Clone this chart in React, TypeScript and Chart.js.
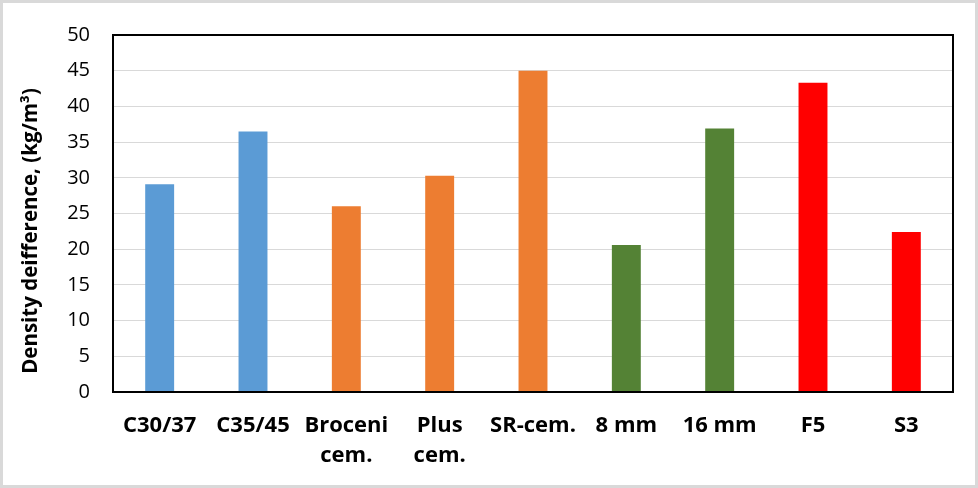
import { useEffect, useRef } from "react";
import { Chart, registerables } from "chart.js";

Chart.register(...registerables);

const categories: string[][] = [
  ["C30/37"],
  ["C35/45"],
  ["Broceni", "cem."],
  ["Plus", "cem."],
  ["SR-cem."],
  ["8 mm"],
  ["16 mm"],
  ["F5"],
  ["S3"],
];
const values = [29.1, 36.5, 26.0, 30.3, 45.0, 20.6, 36.9, 43.3, 22.4];
const barColors = [
  "#5B9BD5",
  "#5B9BD5",
  "#ED7D31",
  "#ED7D31",
  "#ED7D31",
  "#548235",
  "#548235",
  "#FF0000",
  "#FF0000",
];
const yMin = 0;
const yMax = 50;
const yStep = 5;
const yTitle = "Density deifference, (kg/m\u00B3)";

const FONT = "'Open Sans', 'Liberation Sans', sans-serif";

const framePlugin = {
  id: "frame",
  beforeDraw(chart: any) {
    const ctx = chart.ctx;
    ctx.save();
    ctx.fillStyle = "#FFFFFF";
    ctx.fillRect(0, 0, chart.width, chart.height);
    ctx.restore();
  },
  afterDraw(chart: any) {
    const ctx = chart.ctx;
    const a = chart.chartArea;
    ctx.save();
    // plot box
    ctx.strokeStyle = "#000000";
    ctx.lineWidth = 2;
    ctx.strokeRect(a.left, a.top, a.right - a.left, a.bottom - a.top);
    // outer border
    ctx.strokeStyle = "#D9D9D9";
    ctx.lineWidth = 3;
    ctx.strokeRect(1.5, 1.5, chart.width - 3, chart.height - 3);
    // y title
    ctx.fillStyle = "#000000";
    ctx.font = `bold 20.5px ${FONT}`;
    ctx.textAlign = "center";
    ctx.textBaseline = "middle";
    ctx.translate(31, 231);
    ctx.rotate(-Math.PI / 2);
    ctx.fillText(yTitle, 0, 0);
    ctx.restore();
  },
};

export default function App() {
  const ref = useRef<HTMLCanvasElement | null>(null);
  useEffect(() => {
    if (!ref.current) return;
    const chart = new Chart(ref.current, {
      type: "bar",
      data: {
        labels: categories,
        datasets: [
          {
            data: values,
            backgroundColor: barColors,
            borderWidth: 0,
            barPercentage: 0.31,
            categoryPercentage: 1,
          },
        ],
      },
      options: {
        responsive: false,
        animation: false,
        layout: { padding: { left: 0, top: 32, right: 25, bottom: 0 } },
        plugins: {
          legend: { display: false },
          tooltip: { enabled: false },
          title: { display: false },
        },
        scales: {
          x: {
            grid: { display: false, drawTicks: false },
            border: { display: false },
            ticks: {
              color: "#000000",
              font: { family: FONT, size: 22, weight: "bold", lineHeight: 1.4 },
              padding: 18,
              maxRotation: 0,
              autoSkip: false,
            },
            afterFit(scale: any) {
              scale.height = 96;
            },
          },
          y: {
            min: yMin,
            max: yMax,
            grid: { color: "#D9D9D9", lineWidth: 1, drawTicks: false },
            border: { display: false },
            ticks: {
              stepSize: yStep,
              color: "#000000",
              font: { family: FONT, size: 20 },
              padding: 23,
            },
            afterFit(scale: any) {
              scale.width = 113;
            },
          },
        },
      },
      plugins: [framePlugin],
    });
    return () => chart.destroy();
  }, []);
  return (
    <div style={{ position: "fixed", left: 0, top: 0, width: 978, height: 488 }}>
      <canvas ref={ref} width={978} height={488} style={{ display: "block" }} />
    </div>
  );
}
